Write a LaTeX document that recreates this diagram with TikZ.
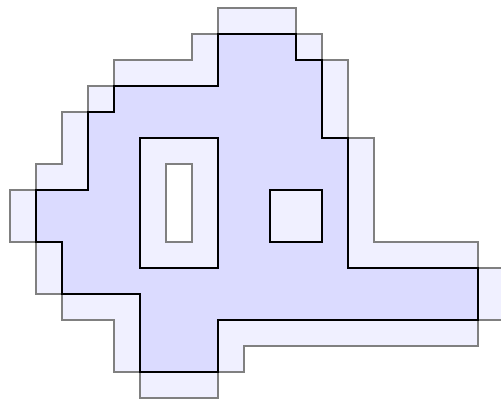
\documentclass[tikz,border=0pt]{standalone}
\tikzset{
  grown/.style={draw=black!50, fill=blue!6, line width=1.6pt},
  region/.style={draw=black, fill=blue!14, line width=1.6pt, even odd rule},
}
\begin{document}
\begin{tikzpicture}[x=0.5cm, y=0.5cm, line join=miter]
                    \useasboundingbox (-0.385,0.308) rectangle (18.885,-15.19);
                    % Dilated region
                    \draw[grown] (8,0) -- (11,0) -- (11,-1) -- (12,-1) -- (12,-2) -- (13,-2)
                      -- (13,-5) -- (14,-5) -- (14,-9) -- (18,-9) -- (18,-10) -- (19,-10)
                      -- (19,-12) -- (18,-12) -- (18,-13) -- (9,-13) -- (9,-14) -- (8,-14)
                      -- (8,-15) -- (5,-15) -- (5,-14) -- (4,-14) -- (4,-12) -- (2,-12)
                      -- (2,-11) -- (1,-11) -- (1,-9) -- (0,-9) -- (0,-7) -- (1,-7)
                      -- (1,-6) -- (2,-6) -- (2,-4) -- (3,-4) -- (3,-3) -- (4,-3)
                      -- (4,-2) -- (7,-2) -- (7,-1) -- (8,-1) -- cycle;
                    \draw[grown, fill=white] (6,-6) rectangle (7,-9);
                    % Original region with its two holes
                    \draw[region] (1,-7) -- (3,-7) -- (3,-4) -- (4,-4) -- (4,-3) -- (8,-3)
                      -- (8,-1) -- (11,-1) -- (11,-2) -- (12,-2) -- (12,-5) -- (13,-5)
                      -- (13,-10) -- (18,-10) -- (18,-12) -- (8,-12) -- (8,-14) -- (5,-14)
                      -- (5,-11) -- (2,-11) -- (2,-9) -- (1,-9) -- cycle
                      (5,-5) rectangle (8,-10)
                      (10,-7) rectangle (12,-9);
                    % Gray edges of the inner hole on top
                    \draw[grown, fill=none] (6,-6) rectangle (7,-9);
\end{tikzpicture}
\end{document}
